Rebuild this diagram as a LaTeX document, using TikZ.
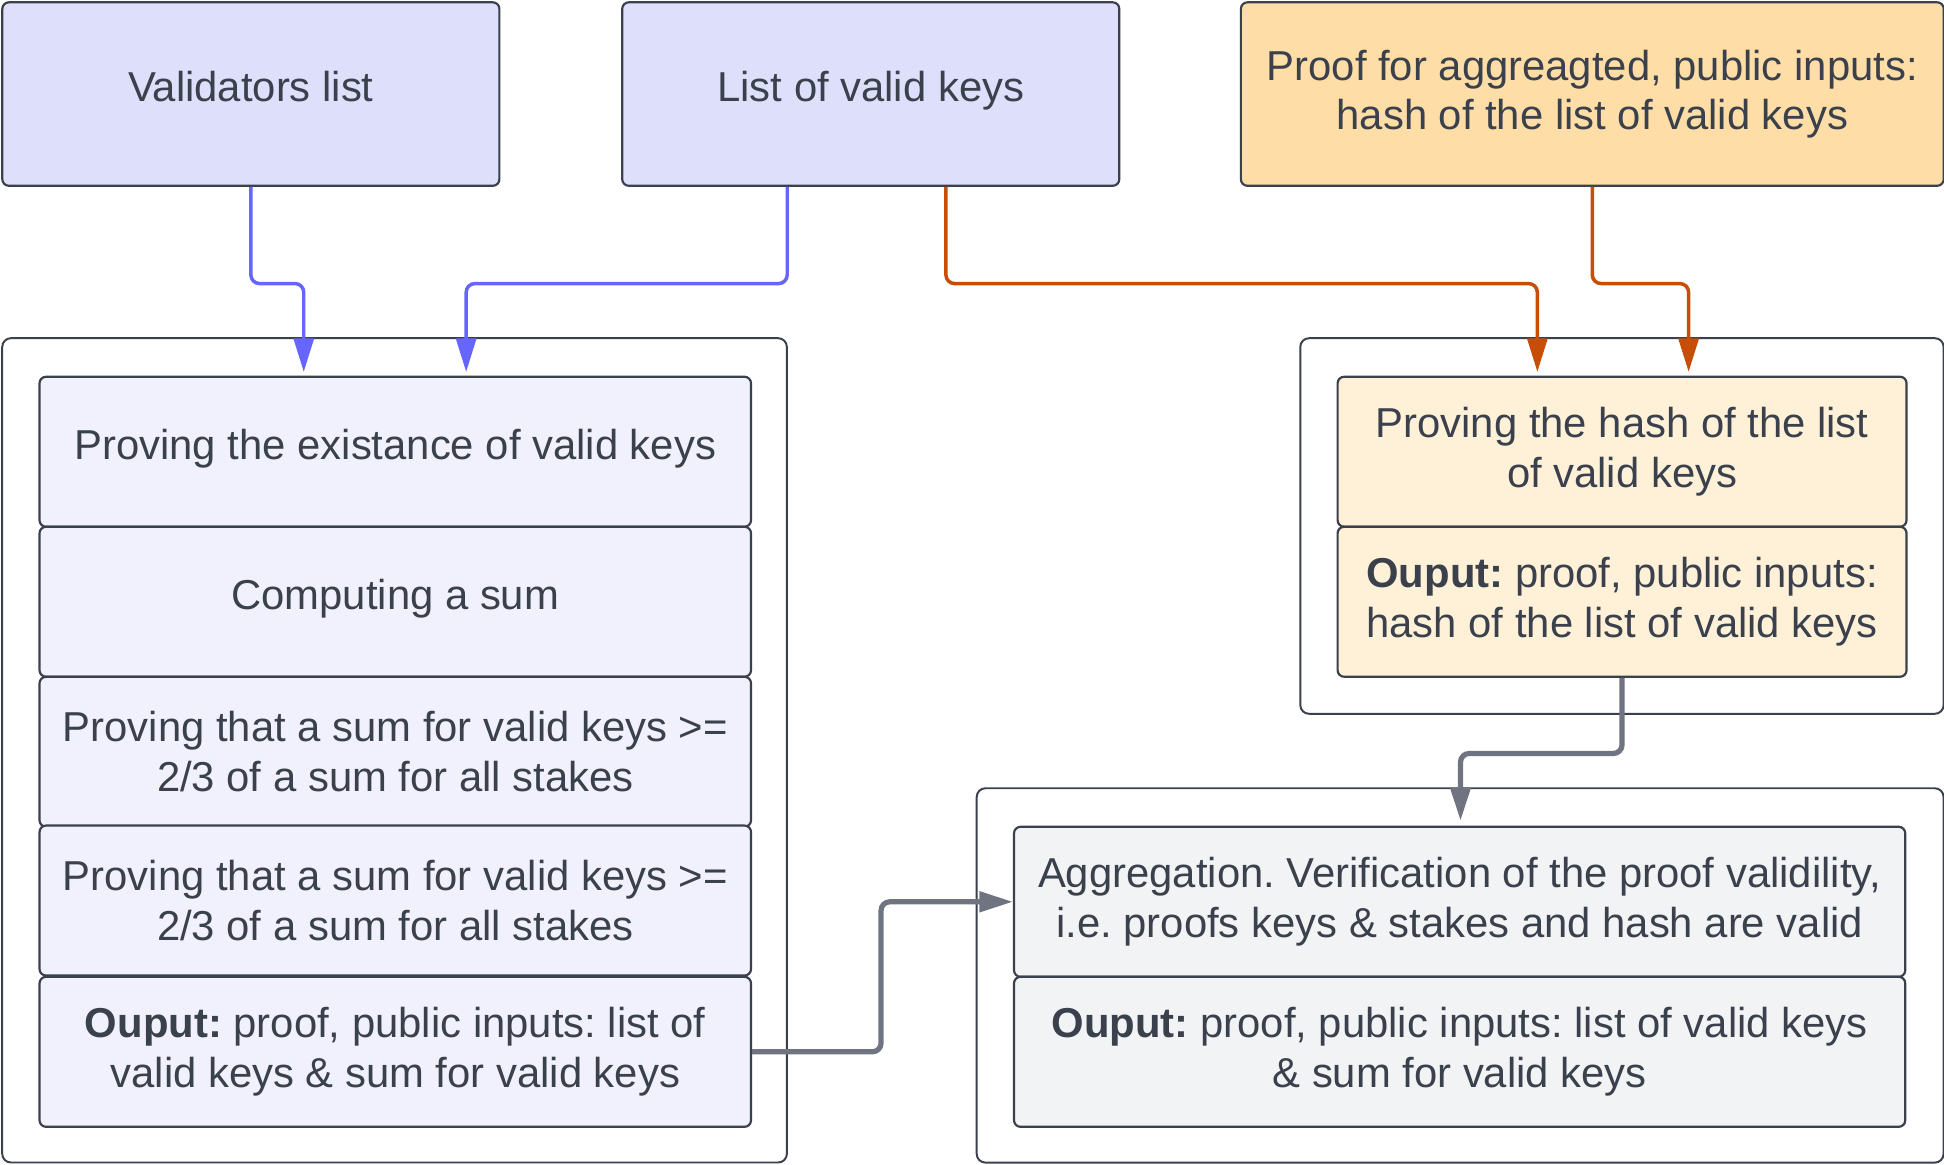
\documentclass[tikz,border=0pt]{standalone}
\usepackage{fontspec}
\setmainfont{Liberation Sans}
\usetikzlibrary{arrows.meta}

\definecolor{ink}{RGB}{58,65,76}
\definecolor{lavender}{RGB}{222,223,251}
\definecolor{paleblue}{RGB}{241,241,253}
\definecolor{peach}{RGB}{254,221,166}
\definecolor{cream}{RGB}{255,241,216}
\definecolor{cloud}{RGB}{242,243,245}
\definecolor{blueline}{RGB}{102,102,255}
\definecolor{orangeline}{RGB}{199,78,8}
\definecolor{grayline}{RGB}{111,116,128}

\begin{document}
\frenchspacing
\begin{tikzpicture}[x=0.02cm, y=-0.02cm,
    box/.style={draw=ink, line width=1pt, rounded corners=3pt, anchor=north west,
        inner sep=0pt, align=center, text=ink, font=\fontsize{19.2}{22.8}\selectfont},
    oneline/.style={text depth=7pt},
    frame/.style={draw=ink, line width=0.9pt, rounded corners=4pt, anchor=north west,
        inner sep=0pt, fill=white},
    link/.style={line width=1.6pt, rounded corners=4pt,
        -{Triangle[length=0.54cm,width=0.32cm]}},
    thick link/.style={link, draw=grayline, line width=2.4pt}]
    \useasboundingbox (0,0) rectangle (1568,939);

    % Inputs
    \node[box, oneline, fill=lavender, minimum width=8.02cm, minimum height=2.96cm] (valid) at (1,1) {Validators list};
    \node[box, oneline, fill=lavender, minimum width=8.02cm, minimum height=2.96cm] (keys) at (501,1) {List of valid keys};
    \node[box, fill=peach, minimum width=11.34cm, minimum height=2.96cm] (proof) at (1000,1)
        {Proof for aggreagted, public inputs:\\hash of the list of valid keys};

    % Groups
    \node[frame, minimum width=12.66cm, minimum height=13.3cm] (stakegrp) at (1,272) {};
    \node[frame, minimum width=10.38cm, minimum height=6.06cm] (hashgrp) at (1048,272) {};
    \node[frame, minimum width=15.6cm, minimum height=6.04cm] (agggrp) at (787,635) {};

    % Keys and stakes circuit
    \node[box, oneline, fill=paleblue, minimum width=11.48cm, minimum height=2.42cm] (exist) at (31,303)
        {Proving the existance of valid keys};
    \node[box, oneline, fill=paleblue, minimum width=11.48cm, minimum height=2.42cm] (sum) at (31,424)
        {Computing a sum};
    \foreach \n/\y/\t in {twothirds/545/{Proving that a sum for valid keys >=\\2/3 of a sum for all stakes},
                          twothirdsb/665/{Proving that a sum for valid keys >=\\2/3 of a sum for all stakes},
                          stakeout/787/{\textbf{Ouput:} proof, public inputs: list of\\valid keys \& sum for valid keys}} {
        \node[box, fill=paleblue, minimum width=11.48cm, minimum height=2.42cm] (\n) at (31,\y) {\t};
    }

    % Hash circuit
    \node[box, fill=cream, minimum width=9.18cm, minimum height=2.42cm] (hashprove) at (1078,303)
        {Proving the hash of the list\\of valid keys};
    \node[box, fill=cream, minimum width=9.18cm, minimum height=2.42cm] (hashout) at (1078,424)
        {\textbf{Ouput:} proof, public inputs:\\hash of the list of valid keys};

    % Aggregation
    \node[box, fill=cloud, minimum width=14.38cm, minimum height=2.42cm] (agg) at (817,666)
        {Aggregation. Verification of the proof validility,\\i.e. proofs keys \& stakes and hash are valid};
    \node[box, fill=cloud, minimum width=14.38cm, minimum height=2.42cm] (aggout) at (817,787)
        {\textbf{Ouput:} proof, public inputs: list of valid keys\\\& sum for valid keys};

    % Arrow ends
    \coordinate (tipA) at (245,300);
    \coordinate (tipB) at (376,300);
    \coordinate (tipC) at (1240,300);
    \coordinate (tipD) at (1362,300);
    \coordinate (tipE) at (1178,662);

    \draw[link, draw=blueline] (valid.south) -- ++(0,78) -| (tipA);
    \draw[link, draw=blueline] ([xshift=2.68cm]keys.south west) -- ++(0,78) -| (tipB);
    \draw[link, draw=orangeline] ([xshift=5.24cm]keys.south west) -- ++(0,78) -| (tipC);
    \draw[link, draw=orangeline] (proof.south) -- ++(0,78) -| (tipD);
    \draw[thick link] (hashout.south) -- ++(0,61) -| (tipE);
    \draw[thick link] (stakeout.east) -- ++(104,0) |- (agg.west);
\end{tikzpicture}
\end{document}
